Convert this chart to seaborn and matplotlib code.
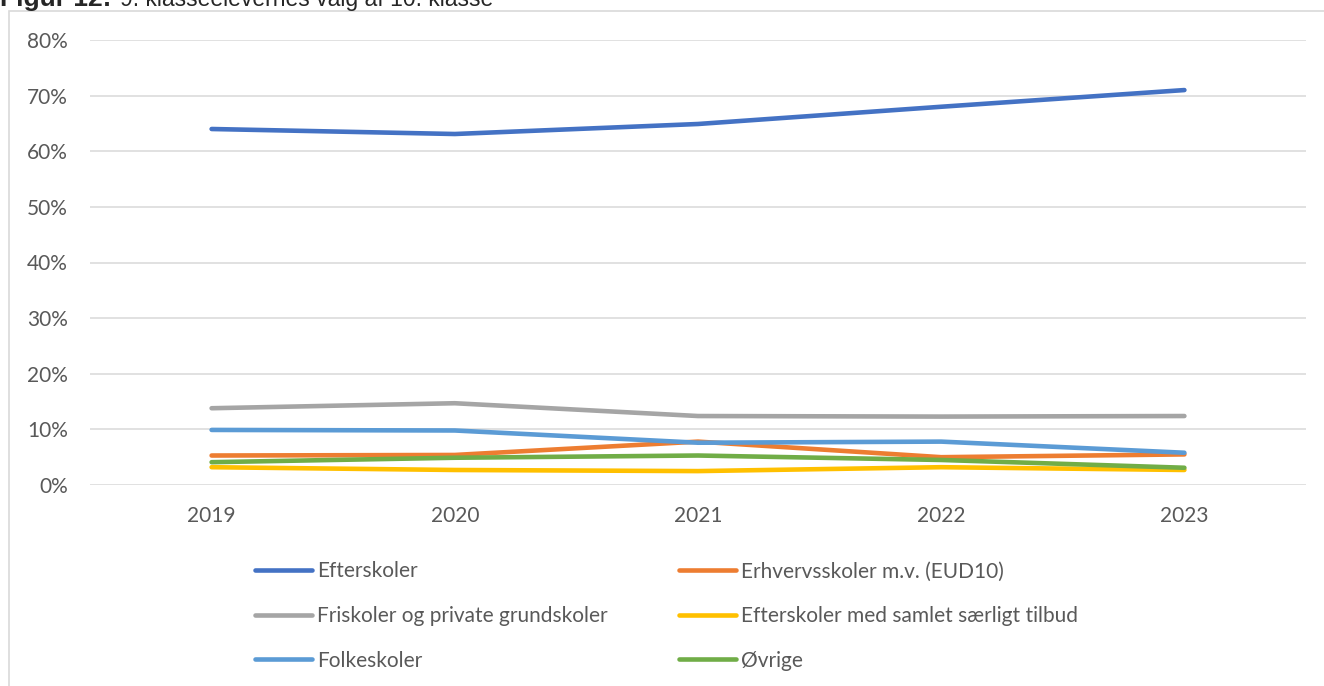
import pandas as pd
import seaborn as sns
import matplotlib.pyplot as plt
from matplotlib.patches import Rectangle
from matplotlib.ticker import PercentFormatter

years = ["2019", "2020", "2021", "2022", "2023"]

efterskoler = [0.640, 0.631, 0.649, 0.680, 0.710]
erhvervsskoler = [0.053, 0.054, 0.078, 0.050, 0.055]
friskoler = [0.138, 0.147, 0.124, 0.123, 0.124]
efterskoler_saerligt = [0.032, 0.027, 0.025, 0.032, 0.027]
folkeskoler = [0.099, 0.098, 0.076, 0.078, 0.058]
oevrige = [0.041, 0.049, 0.053, 0.045, 0.031]

series = {
    "Efterskoler": efterskoler,
    "Erhvervsskoler m.v. (EUD10)": erhvervsskoler,
    "Friskoler og private grundskoler": friskoler,
    "Efterskoler med samlet særligt tilbud": efterskoler_saerligt,
    "Folkeskoler": folkeskoler,
    "Øvrige": oevrige,
}
colors = ["#4472C4", "#ED7D31", "#A5A5A5", "#FFC000", "#5B9BD5", "#70AD47"]

rows = []
for name, vals in series.items():
    for y, v in zip(years, vals):
        rows.append({"year": y, "share": v, "type": name})
df = pd.DataFrame(rows)

sns.set_style("white")
plt.rcParams["font.family"] = ["Lato", "DejaVu Sans"]

fig = plt.figure(figsize=(13.24, 6.86), dpi=100)
ax = fig.add_axes([90 / 1324, 1 - 485 / 686, 1216 / 1324, 445 / 686])

sns.lineplot(data=df, x="year", y="share", hue="type", palette=colors,
             linewidth=3.3, sort=False, ax=ax, legend=True)

ax.set_xlim(-0.5, 4.5)
ax.set_ylim(0, 0.8)
ax.set_yticks([i / 10 for i in range(9)])
ax.yaxis.set_major_formatter(PercentFormatter(1.0, decimals=0))
ax.grid(axis="y", color="#D9D9D9", linewidth=1.1)
ax.set_axisbelow(True)
for s in ax.spines.values():
    s.set_visible(False)
ax.tick_params(axis="both", length=0, colors="#595959", labelsize=15)
ax.tick_params(axis="y", pad=16)
ax.tick_params(axis="x", pad=15)
ax.set_xlabel("")
ax.set_ylabel("")

handles, labels = ax.get_legend_handles_labels()
order = [0, 2, 4, 1, 3, 5]
leg = ax.legend([handles[i] for i in order], [labels[i] for i in order],
                ncol=2, loc="upper left", bbox_to_anchor=(245 / 1324, 1 - 551 / 686),
                bbox_transform=fig.transFigure, frameon=False, fontsize=15,
                handlelength=2.7, handletextpad=0.25, columnspacing=3.45,
                labelspacing=1.18, borderpad=0, labelcolor="#595959")
for line in leg.get_lines():
    line.set_linewidth(3.3)

# chart area border
fig.patches.append(Rectangle((9 / 1324, -0.1), 1.2, 1 - 11 / 686 + 0.1,
                             transform=fig.transFigure, fill=False,
                             edgecolor="#D9D9D9", linewidth=1.2))

# cut-off figure caption at the top
t1 = fig.text(0.0, 1 - 6 / 686, "Figur 12:", fontsize=19, fontweight="bold",
              family="Liberation Sans", va="baseline", ha="left")
fig.canvas.draw()
bb = t1.get_window_extent()
fig.text(bb.x1 / 1324 + 9 / 1324, 1 - 6 / 686, "9. klasseelevernes valg af 10. klasse",
         fontsize=16.5, family="Liberation Sans", va="baseline", ha="left")

fig.savefig("out.png", dpi=100)
